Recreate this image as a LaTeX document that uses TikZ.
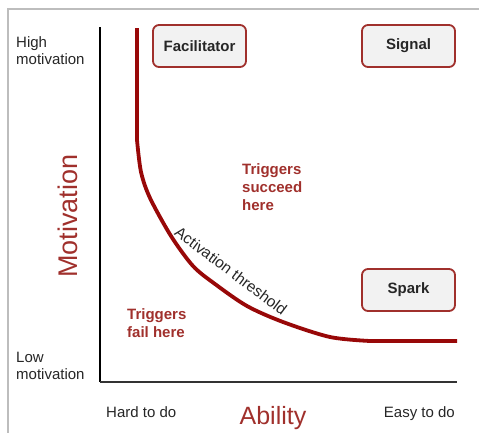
\documentclass[tikz,border=0pt]{standalone}
\usepackage{fontspec}
\setmainfont{Liberation Sans}
\definecolor{curvered}{HTML}{980808}
\definecolor{textred}{HTML}{A0302C}
\definecolor{boxfill}{HTML}{F2F2F2}
\definecolor{framegray}{HTML}{BDBDBD}
\tikzset{
  lbl/.style={font=\fontsize{15}{17}\selectfont, inner sep=0pt, align=left, text=black!85},
  trig/.style={font=\fontsize{15}{18}\selectfont\bfseries, inner sep=0pt, align=left, text=textred},
  bigl/.style={font=\fontsize{25}{28}\selectfont, inner sep=0pt, text=textred},
  kind/.style={draw=textred, line width=1.8pt, fill=boxfill, rounded corners=6pt,
    minimum width=93pt, minimum height=42pt, font=\fontsize{15}{17}\selectfont\bfseries, text=black!85},
}
\begin{document}
\begin{tikzpicture}[x=1pt,y=-1pt]
\useasboundingbox (0,0) rectangle (479,432);
% frame
\draw[framegray, line width=1.5pt] (8,440) -- (8,9) -- (485,9);
% axes
\coordinate (top) at (100,27);
\coordinate (origin) at (100,382);
\coordinate (right) at (457,382);
\draw[black, line width=2pt] (top) -- (origin);
\draw[black!80, line width=2pt] (origin) -- (right);
% curve
\draw[curvered, line width=3.8pt, line join=round]
  (137,28) -- (137,140)
  plot[smooth, tension=0.5] coordinates {(137,140) (141,172) (150,198) (171,236) (193,266) (215,284) (247,306) (283,322) (330,337) (370,341)}
  -- (457,341);
% boxes
\node[kind] (facil) at (199.5,46) {Facilitator};
\node[kind] (signal) at (408.5,46) {Signal};
\node[kind] (spark) at (408.5,290) {Spark};
% region labels
\node[trig, anchor=base west] (succ) at (242,210) {Triggers\\succeed\\here};
\node[trig, anchor=base west] (fail) at (127,337) {Triggers\\fail here};
\node[font=\fontsize{15.5}{17}\selectfont, inner sep=0pt, rotate=-37, text=black!85] (thr) at (231,271) {Activation threshold};
% axis labels
\node[lbl, anchor=base west] (high) at (16,64) {High\\motivation};
\node[lbl, anchor=base west] (low) at (16,379) {Low\\motivation};
\node[lbl, anchor=base west] (hard) at (106,417) {Hard to do};
\node[lbl, anchor=base east] (easy) at (455,417) {Easy to do};
\node[bigl, anchor=base] (abil) at (273,424) {Ability};
\node[bigl, font=\fontsize{27}{30}\selectfont, rotate=90] (motiv) at (68,216) {Motivation};
\end{tikzpicture}
\end{document}
